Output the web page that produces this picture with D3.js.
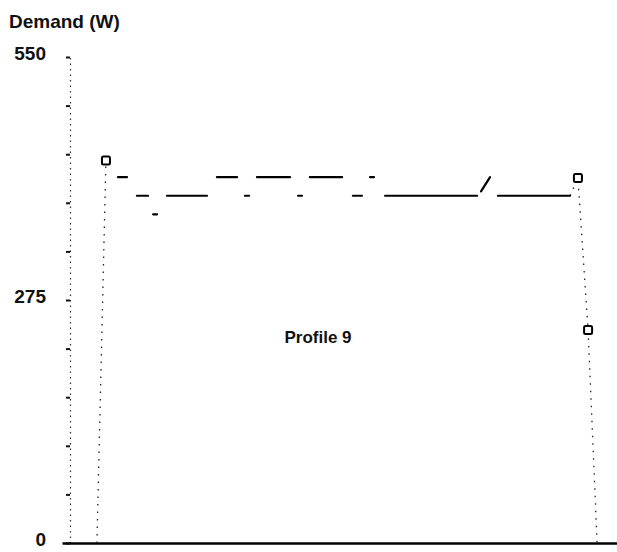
<!DOCTYPE html>
<html>
<head>
<meta charset="utf-8">
<script src="https://cdn.jsdelivr.net/npm/d3@7"></script>
<style>
  html, body { margin: 0; padding: 0; background: #fff; }
  svg { display: block; font-family: "Liberation Sans", Arial, sans-serif; }
</style>
</head>
<body>
<svg id="chart" width="617" height="552"></svg>
<script>
// Demand profile 9: level segments (hours, watts)
const segStart = [2.42, 3.24, 3.94, 4.54, 6.70, 7.91, 8.43, 10.21, 10.72, 12.58, 13.32, 13.97, 18.12, 18.85];
const segEnd   = [2.81, 3.72, 4.11, 6.27, 7.57, 8.09, 9.86, 10.38, 12.11, 12.97, 13.49, 17.95, 18.51, 21.97];
const segFrom  = [414, 393, 372, 393, 414, 393, 414, 393, 414, 393, 414, 393, 398, 393];
const segTo    = [414, 393, 372, 393, 414, 393, 414, 393, 414, 393, 414, 393, 414, 393];

// Switch-on and switch-off ramps (faint dotted traces)
const rampOnTime  = [1.51, 1.90];
const rampOnValue = [0, 433];
const rampOffTime  = [21.97, 22.31, 22.75, 23.14];
const rampOffValue = [393, 413, 241, 0];

// Sampled points shown with square markers
const markerTime  = [1.90, 22.31, 22.75];
const markerValue = [433, 413, 241];

// Vertical axis
const yTicks = [0, 55, 110, 165, 220, 275, 330, 385, 440, 495, 550];
const yLabels = [0, 275, 550];

const svg = d3.select("#chart");

const x = d3.scaleLinear().domain([0, 24]).range([62, 617]);
const y = d3.scaleLinear().domain([0, 550]).range([543, 57]);

// Axis title
svg.append("text")
  .attr("x", 9).attr("y", 28)
  .attr("font-size", 19).attr("font-weight", "bold")
  .attr("fill", "#111")
  .text("Demand (W)");

// Y axis with minor ticks and three labels
const yAxis = svg.append("g")
  .attr("transform", "translate(70,0)")
  .call(d3.axisLeft(y)
    .tickValues(yTicks)
    .tickSize(4)
    .tickSizeOuter(0)
    .tickPadding(20)
    .tickFormat(d => yLabels.includes(d) ? d : ""));
yAxis.select(".domain")
  .attr("stroke", "#333")
  .attr("stroke-width", 1.2)
  .attr("stroke-dasharray", "1.5,4");
yAxis.selectAll(".tick line")
  .attr("stroke", "#111")
  .attr("stroke-width", 2);
yAxis.selectAll(".tick text")
  .attr("y", -4)
  .attr("font-size", 19)
  .attr("font-weight", "bold")
  .attr("fill", "#111")
  .attr("font-family", "Liberation Sans, Arial, sans-serif");

// X axis baseline
const xAxis = svg.append("g")
  .attr("transform", "translate(0,543)")
  .call(d3.axisBottom(x).tickValues([]).tickSizeOuter(0));
xAxis.select(".domain")
  .attr("stroke", "#000")
  .attr("stroke-width", 2.5);

// Dotted ramps
const line = d3.line().x(d => x(d[0])).y(d => y(d[1]));
const dotted = (ts, vs) => svg.append("path")
  .attr("d", line(ts.map((t, i) => [t, vs[i]])))
  .attr("fill", "none")
  .attr("stroke", "#222")
  .attr("stroke-width", 1.3)
  .attr("stroke-dasharray", "1.5,6");
dotted(rampOnTime, rampOnValue);
dotted(rampOffTime, rampOffValue);

// Level segments
svg.append("g").selectAll("line")
  .data(segStart.map((s, i) => ({ s, e: segEnd[i], a: segFrom[i], b: segTo[i] })))
  .join("line")
  .attr("x1", d => x(d.s)).attr("x2", d => x(d.e))
  .attr("y1", d => y(d.a)).attr("y2", d => y(d.b))
  .attr("stroke", "#000")
  .attr("stroke-width", 2.2)
  .attr("stroke-linecap", "round");

// Square markers
svg.append("g").selectAll("rect")
  .data(markerTime.map((t, i) => ({ t, v: markerValue[i] })))
  .join("rect")
  .attr("x", d => x(d.t) - 4).attr("y", d => y(d.v) - 4)
  .attr("width", 8).attr("height", 8)
  .attr("rx", 1.5)
  .attr("fill", "#fff")
  .attr("stroke", "#000")
  .attr("stroke-width", 2);

// Profile label
svg.append("text")
  .attr("x", 318).attr("y", 343)
  .attr("text-anchor", "middle")
  .attr("font-size", 17).attr("font-weight", "bold")
  .attr("fill", "#111")
  .text("Profile 9");
</script>
</body>
</html>
